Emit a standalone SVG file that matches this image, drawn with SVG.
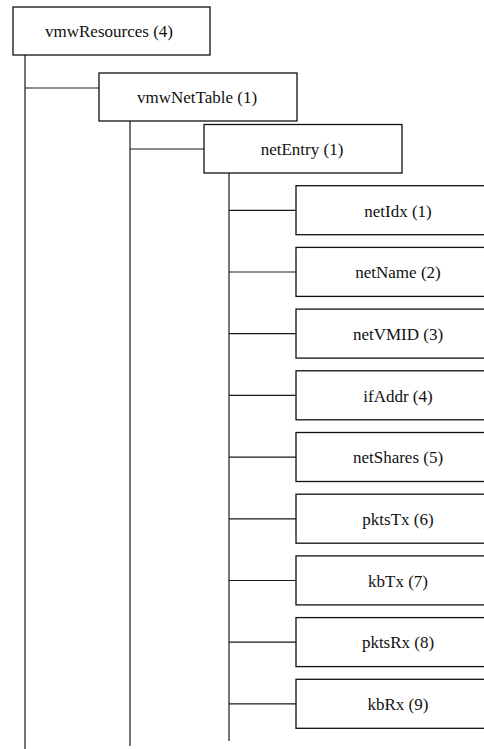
<svg xmlns="http://www.w3.org/2000/svg" width="484" height="749" viewBox="0 0 484 749">
<style>
.box{fill:#fff;stroke:#111;stroke-width:1.3}
.ln{stroke:#1a1a1a;stroke-width:1.2;fill:none}
text{font-family:"Liberation Serif","Times New Roman",serif;font-size:17px;fill:#111;text-anchor:middle}
</style>
<rect width="484" height="749" fill="#fff"/>
<g id="connectors">
<path class="ln" d="M25,55V749M25,88H99"/>
<path class="ln" d="M130,121V746M130,149H204"/>
<path class="ln" d="M229,173V741"/>
<path class="ln" d="M229,210.3H296M229,272H296M229,333.7H296M229,395.4H296M229,457.1H296M229,518.8H296M229,580.5H296M229,642.2H296M229,703.9H296"/>
</g>
<g id="vmwResources"><rect class="box" x="13" y="7" width="197" height="48"/><text x="109" y="37">vmwResources (4)</text></g>
<g id="vmwNetTable"><rect class="box" x="99" y="73" width="198" height="48"/><text x="197" y="103">vmwNetTable (1)</text></g>
<g id="netEntry"><rect class="box" x="204" y="124.5" width="198" height="48.5"/><text x="302" y="155">netEntry (1)</text></g>
<g id="netIdx"><rect class="box" x="296" y="185.7" width="210" height="49"/><text x="398" y="216.5">netIdx (1)</text></g>
<g id="netName"><rect class="box" x="296" y="247.4" width="210" height="49"/><text x="398" y="278.2">netName (2)</text></g>
<g id="netVMID"><rect class="box" x="296" y="309.1" width="210" height="49"/><text x="398" y="339.9">netVMID (3)</text></g>
<g id="ifAddr"><rect class="box" x="296" y="370.8" width="210" height="49"/><text x="398" y="401.6">ifAddr (4)</text></g>
<g id="netShares"><rect class="box" x="296" y="432.5" width="210" height="49"/><text x="398" y="463.3">netShares (5)</text></g>
<g id="pktsTx"><rect class="box" x="296" y="494.2" width="210" height="49"/><text x="398" y="525">pktsTx (6)</text></g>
<g id="kbTx"><rect class="box" x="296" y="555.9" width="210" height="49"/><text x="398" y="586.7">kbTx (7)</text></g>
<g id="pktsRx"><rect class="box" x="296" y="617.6" width="210" height="49"/><text x="398" y="648.4">pktsRx (8)</text></g>
<g id="kbRx"><rect class="box" x="296" y="679.3" width="210" height="49"/><text x="398" y="710.1">kbRx (9)</text></g>
</svg>
